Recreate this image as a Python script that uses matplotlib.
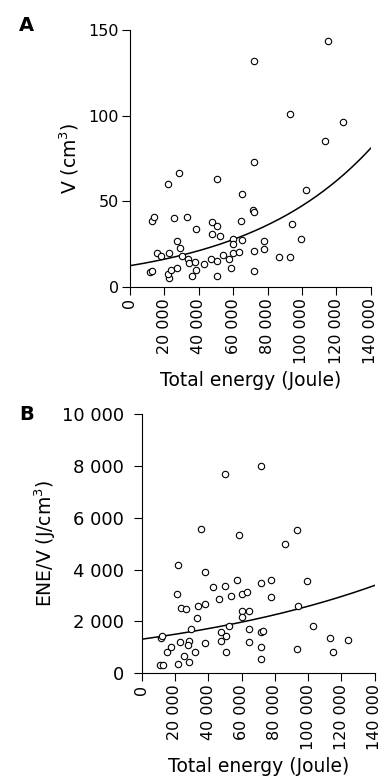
import matplotlib
matplotlib.use("Agg")
import matplotlib.pyplot as plt
import numpy as np

plt.rcParams['font.family'] = ['DejaVu Sans']

# --------------------------------------------------------------
# Panel A: total energy (J) vs volume (cm3)
energy_a = [11600, 13000, 12600, 13900, 15500, 17900, 21900, 28700, 22800, 22500,
            22300, 23800, 25700, 27500, 27600, 28800, 30000, 32900, 33700, 34500,
            36000, 38300, 38500, 38000, 43200, 47000, 47700, 47700, 50700, 50700,
            50700, 52500, 53800, 50600, 57300, 58700, 60000, 60000, 59800, 63400,
            64700, 64900, 64900, 71500, 72300, 72000, 72000, 72000, 72000, 78000,
            78000, 86600, 93200, 94300, 99300, 102600, 93000, 113700, 115200, 124000]
volume_a = [8.4, 9.4, 38.4, 41.0, 19.9, 17.9, 60.3, 66.3, 19.9, 5.0,
            7.3, 9.8, 40.0, 11.1, 26.5, 22.8, 17.9, 41.0, 16.4, 13.7,
            6.4, 33.5, 10.0, 14.2, 13.3, 16.2, 37.6, 31.0, 35.3, 15.0,
            6.4, 29.6, 18.4, 63.0, 16.1, 11.1, 28.0, 25.1, 19.9, 20.5,
            38.6, 27.3, 54.3, 44.9, 43.9, 20.9, 9.4, 73.1, 132.0, 26.7,
            22.2, 17.6, 17.6, 36.5, 27.9, 56.6, 101.0, 85.4, 143.7, 96.5]

# Panel B: total energy (J) vs ENE/V (J/cm3)
energy_b = [11500, 12300, 10900, 12900, 14900, 17400, 21600, 21400, 22800, 23800,
            26700, 25300, 28300, 28300, 27700, 29700, 32100, 33100, 34100, 38000,
            38000, 38000, 42600, 46500, 47500, 47500, 50100, 50500, 50500, 52500,
            53900, 57000, 60000, 60000, 60000, 63400, 64400, 64400, 64400, 71700,
            71700, 72700, 71700, 71700, 77800, 77800, 93500, 94100, 99000, 102600,
            113300, 114800, 123800, 21800, 35600, 50300, 71700, 58600, 86100, 93500]
ene_v_b = [1380, 1445, 323, 323, 839, 1032, 348, 3057, 1226, 2516,
           2490, 671, 452, 1264, 1097, 1716, 839, 2129, 2580, 2683,
           1187, 3896, 3315, 2864, 1587, 1264, 3354, 1445, 839, 1845,
           2967, 3586, 3057, 2387, 2167, 3122, 2387, 1703, 1226, 3483,
           1613, 1651, 1006, 555, 3586, 2941, 942, 2580, 3573, 1845,
           1355, 839, 1290, 4169, 5562, 7678, 8013, 5330, 5008, 5524]

# exponential fits: y = a * exp(k * x)
fit_a = (12.3, 1.346e-5)
fit_b = (1316, 6.77e-6)

x_ticks = [0, 20000, 40000, 60000, 80000, 100000, 120000, 140000]
x_labels = ['0', '20 000', '40 000', '60 000', '80 000', '100 000', '120 000', '140 000']
ya_ticks = [0, 50, 100, 150]
yb_ticks = [0, 2000, 4000, 6000, 8000, 10000]
yb_labels = ['0', '2 000', '4 000', '6 000', '8 000', '10 000']

# --------------------------------------------------------------
fig = plt.figure(figsize=(3.81, 7.83), dpi=100)
ax_a = fig.add_axes([0.3412, 0.6338, 0.6318, 0.3278])
ax_b = fig.add_axes([0.3719, 0.1401, 0.6118, 0.3308])


def style(ax):
    for s in ['top', 'right']:
        ax.spines[s].set_visible(False)
    for s in ['left', 'bottom']:
        ax.spines[s].set_linewidth(0.8)
    ax.tick_params(direction='out', length=6, width=0.8, labelsize=11.5, pad=2)
    ax.set_xlim(0, 140000)
    ax.set_xticks(x_ticks)
    ax.set_xticklabels(x_labels, rotation=90)
    ax.set_xlabel('Total energy (Joule)', fontsize=13.5, labelpad=5)


xs = np.linspace(0, 140000, 200)

ax_a.plot(energy_a, volume_a, 'o', ms=4.6, mfc='white', mec='black', mew=0.8,
          clip_on=False, zorder=3)
ax_a.plot(xs, fit_a[0] * np.exp(fit_a[1] * xs), color='black', lw=1.1)
style(ax_a)
ax_a.set_ylim(0, 150)
ax_a.set_yticks(ya_ticks)
ax_a.set_ylabel('V (cm$^3$)', fontsize=13.5, labelpad=5)

ax_b.plot(energy_b, ene_v_b, 'o', ms=4.6, mfc='white', mec='black', mew=0.8,
          clip_on=False, zorder=3)
ax_b.plot(xs, fit_b[0] * np.exp(fit_b[1] * xs), color='black', lw=1.1)
style(ax_b)
ax_b.set_ylim(0, 10000)
ax_b.set_yticks(yb_ticks)
ax_b.set_yticklabels(yb_labels)
ax_b.tick_params(axis='y', labelsize=13, pad=6.5)
ax_b.set_ylabel('ENE/V (J/cm$^3$)', fontsize=13.5, labelpad=3)

fig.text(0.0696, 0.967, 'A', fontsize=14, fontweight='bold', va='center', ha='center')
fig.text(0.0696, 0.4706, 'B', fontsize=14, fontweight='bold', va='center', ha='center')

fig.savefig('out.png', dpi=100)
